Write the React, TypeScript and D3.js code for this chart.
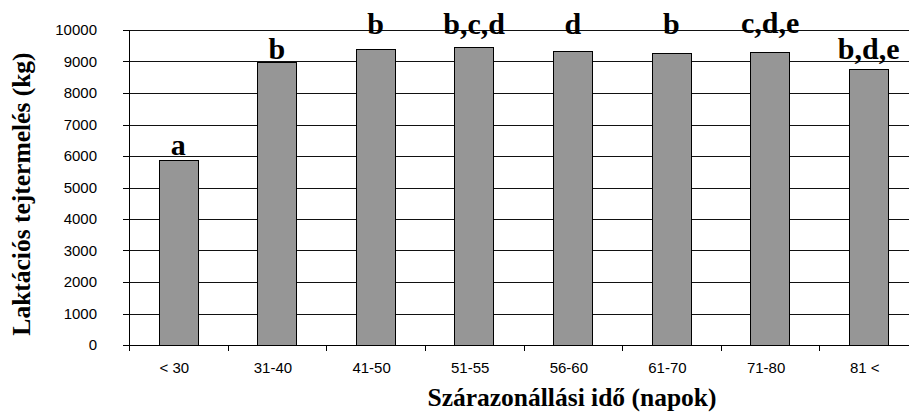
import { useEffect, useRef } from 'react'
import { select, scaleBand, scaleLinear, range } from 'd3'

// chart data
const categories = ['< 30', '31-40', '41-50', '51-55', '56-60', '61-70', '71-80', '81 <']
const milkYield = [5880, 8990, 9400, 9460, 9320, 9260, 9290, 8750]
const letters = ['a', 'b', 'b', 'b,c,d', 'd', 'b', 'c,d,e', 'b,d,e']
// where the letter sits (in kg units, baseline)
const letterLevel = [6030, 9080, 9870, 9870, 9870, 9870, 9900, 9080]
const yTicks = [0, 1000, 2000, 3000, 4000, 5000, 6000, 7000, 8000, 9000, 10000]

const W = 909
const H = 414

export default function App() {
  const ref = useRef<SVGSVGElement>(null)

  useEffect(() => {
    const svg = select(ref.current)
    svg.selectAll('*').remove()

    const left = 129, right = 918, top = 30, bottom = 345

    const x = scaleBand<string>().domain(categories).range([left, right])
      .paddingInner(0.6).paddingOuter(0.3)
    const y = scaleLinear().domain([0, 10000]).range([bottom, top])

    // gridlines
    svg.append('g')
      .selectAll('line')
      .data(yTicks.filter(d => d > 0))
      .join('line')
      .attr('x1', left).attr('x2', W)
      .attr('y1', d => Math.round(y(d)) + 0.5).attr('y2', d => Math.round(y(d)) + 0.5)
      .attr('stroke', '#111').attr('stroke-width', 1)

    // bars
    svg.append('g')
      .selectAll('rect')
      .data(categories)
      .join('rect')
      .attr('x', d => Math.round(x(d)!) + 0.5)
      .attr('y', (d, i) => Math.round(y(milkYield[i])) + 0.5)
      .attr('width', Math.round(x.bandwidth()))
      .attr('height', (d, i) => Math.round(bottom - y(milkYield[i])))
      .attr('fill', '#969696')
      .attr('stroke', '#000').attr('stroke-width', 1)

    // y axis
    const ya = svg.append('g')
    ya.append('line')
      .attr('x1', left + 0.5).attr('x2', left + 0.5)
      .attr('y1', top).attr('y2', bottom + 0.5)
      .attr('stroke', '#000')
    ya.selectAll('line.tick')
      .data(yTicks)
      .join('line')
      .attr('class', 'tick')
      .attr('x1', left - 6).attr('x2', left)
      .attr('y1', d => Math.round(y(d)) + 0.5).attr('y2', d => Math.round(y(d)) + 0.5)
      .attr('stroke', '#000')
    ya.selectAll('text')
      .data(yTicks)
      .join('text')
      .attr('x', 97).attr('y', d => y(d) + 5)
      .attr('text-anchor', 'end')
      .style('font', '15px "Liberation Sans", Arial, sans-serif')
      .text(d => d)

    // x axis
    const xa = svg.append('g')
    xa.append('line')
      .attr('x1', left).attr('x2', W)
      .attr('y1', bottom + 0.5).attr('y2', bottom + 0.5)
      .attr('stroke', '#000')
    xa.selectAll('line.tick')
      .data(range(categories.length + 1))
      .join('line')
      .attr('class', 'tick')
      .attr('x1', i => Math.round(left + x.step() * i) + 0.5)
      .attr('x2', i => Math.round(left + x.step() * i) + 0.5)
      .attr('y1', bottom).attr('y2', bottom + 6)
      .attr('stroke', '#000')
    xa.selectAll('text')
      .data(categories)
      .join('text')
      .attr('x', d => x(d)! + x.bandwidth() / 2 - 4)
      .attr('y', 373)
      .attr('text-anchor', 'middle')
      .style('font', '15px "Liberation Sans", Arial, sans-serif')
      .text(d => d)

    // significance letters
    svg.append('g')
      .selectAll('text')
      .data(categories)
      .join('text')
      .attr('x', d => x(d)! + x.bandwidth() / 2)
      .attr('y', (d, i) => y(letterLevel[i]))
      .attr('text-anchor', 'middle')
      .style('font', 'bold 30px "Liberation Serif", "Times New Roman", serif')
      .text((d, i) => letters[i])

    // axis titles
    svg.append('text')
      .attr('transform', `translate(30,194) rotate(-90)`)
      .attr('text-anchor', 'middle')
      .style('font', 'bold 25.5px "Liberation Serif", "Times New Roman", serif')
      .text('Laktációs tejtermelés (kg)')

    svg.append('text')
      .attr('x', 572).attr('y', 406)
      .attr('text-anchor', 'middle')
      .style('font', 'bold 25.5px "Liberation Serif", "Times New Roman", serif')
      .text('Szárazonállási idő (napok)')
  }, [])

  return (
    <svg ref={ref} width={W} height={H}
      style={{ position: 'absolute', left: 0, top: 0, background: '#fff' }} />
  )
}
